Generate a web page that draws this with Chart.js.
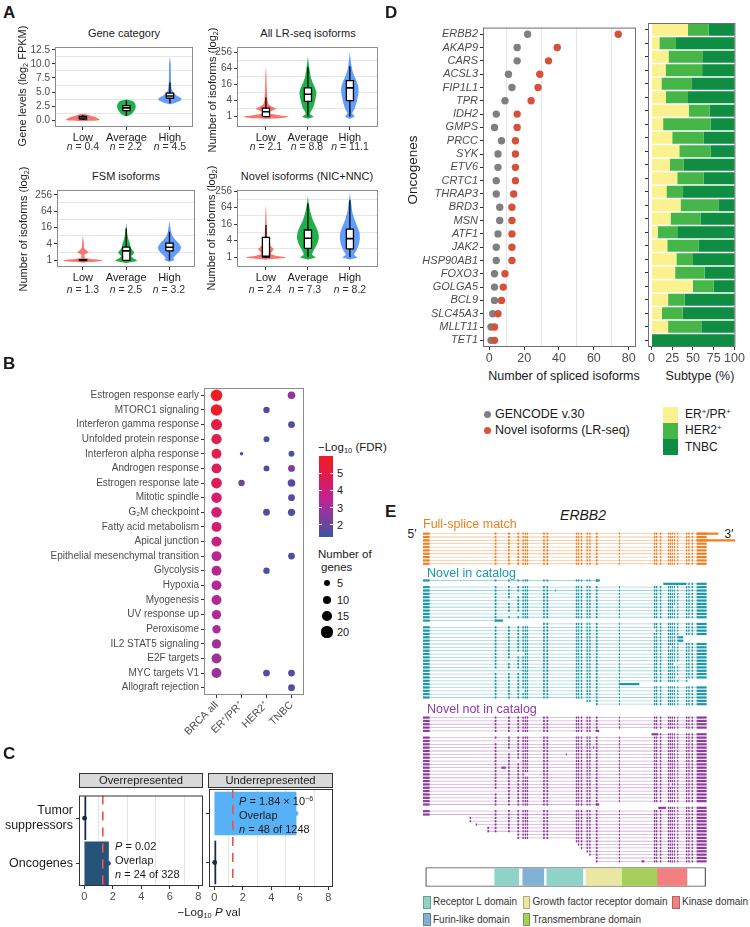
<!DOCTYPE html>
<html>
<head>
<meta charset="utf-8">
<script src="https://cdn.jsdelivr.net/npm/chart.js@4.4.1/dist/chart.umd.min.js"></script>
<style>
  body { margin: 0; width: 750px; height: 927px; position: relative; overflow: hidden; background: #fff;
         font-family: "Liberation Sans", Arial, sans-serif; color: #1a1a1a; }
  canvas { position: absolute; }
  .t { position: absolute; white-space: nowrap; line-height: 1; }
  .t sub { font-size: 0.65em; vertical-align: -0.3em; line-height: 0; }
  .t sup { font-size: 0.65em; vertical-align: 0.55em; line-height: 0; }
  .bx { position: absolute; box-sizing: border-box; }
</style>
</head>
<body>
<script>
// ---------- A: violins ----------
const groups = ['Low', 'Average', 'High'];
const geneN = ['0.4', '2.2', '4.5'];
const allN = ['2.1', '8.8', '11.1'];
const fsmN = ['1.3', '2.5', '3.2'];
const novelN = ['2.4', '7.3', '8.2'];
const geneTicks = [0, 2.5, 5, 7.5, 10, 12.5];
const geneTickLabels = ['0.0', '2.5', '5.0', '7.5', '10.0', '12.5'];
const isoTicks = [1, 4, 16, 64, 256];

// violin outlines, bottom to top: [value, relative width]; isoform panels are in log2
const geneViolins = [
  [[-0.15, 0], [-0.05, 0.75], [0.15, 0.87], [0.4, 0.72], [0.7, 0.5], [0.95, 0.28], [1.15, 0]],
  [[0.7, 0], [0.9, 0.18], [1.3, 0.32], [1.8, 0.42], [2.3, 0.48], [2.8, 0.46], [3.2, 0.4], [3.5, 0.26], [3.7, 0]],
  [[2.8, 0], [3.1, 0.3], [3.5, 0.55], [3.8, 0.6], [4.1, 0.5], [4.5, 0.3], [5, 0.15], [5.5, 0.09], [6.5, 0.06], [8, 0.05], [10, 0.04], [11.3, 0]]
];
const allViolins = [
  [[-0.3, 0], [-0.15, 1.0], [0, 1.2], [0.15, 0.7], [0.35, 0.25], [0.6, 0.2], [0.85, 0.45], [1, 0.55], [1.2, 0.35], [1.5, 0.15], [2, 0.08], [2.6, 0.07], [3, 0.05], [4, 0.04], [5, 0.03], [6.3, 0]],
  [[-0.3, 0], [-0.1, 0.25], [0, 0.3], [0.3, 0.12], [0.6, 0.15], [1, 0.26], [1.6, 0.34], [2.3, 0.41], [3, 0.45], [3.6, 0.38], [4.2, 0.26], [5, 0.15], [6, 0.08], [7.5, 0]],
  [[-0.3, 0], [-0.1, 0.2], [0, 0.25], [0.4, 0.12], [1, 0.26], [2, 0.38], [3, 0.46], [3.8, 0.45], [4.5, 0.34], [5.2, 0.21], [6, 0.11], [7, 0.05], [8.1, 0]]
];
const fsmViolins = [
  [[-0.25, 0], [-0.1, 0.9], [0, 1.03], [0.12, 0.6], [0.3, 0.1], [0.7, 0.08], [0.9, 0.25], [1, 0.3], [1.15, 0.2], [1.5, 0.06], [2.2, 0.04], [3, 0]],
  [[-0.35, 0], [-0.15, 0.45], [0, 0.57], [0.2, 0.4], [0.5, 0.25], [0.85, 0.38], [1, 0.42], [1.3, 0.3], [1.6, 0.22], [2, 0.2], [2.5, 0.12], [3.2, 0.06], [4.6, 0]],
  [[-0.2, 0], [0, 0.25], [0.3, 0.2], [0.8, 0.4], [1.2, 0.55], [1.6, 0.6], [2, 0.5], [2.5, 0.3], [3, 0.15], [3.5, 0.08], [4.8, 0]]
];
const novelViolins = [
  [[-0.3, 0], [-0.1, 1.0], [0, 1.05], [0.15, 0.6], [0.4, 0.25], [0.8, 0.35], [1, 0.42], [1.25, 0.3], [1.6, 0.12], [2.2, 0.08], [3, 0.06], [4, 0.04], [5, 0.03], [6.3, 0]],
  [[-0.3, 0], [-0.1, 0.35], [0, 0.4], [0.3, 0.22], [0.8, 0.3], [1.5, 0.47], [2.3, 0.58], [3, 0.55], [3.7, 0.43], [4.5, 0.26], [5.5, 0.13], [6.5, 0.05], [7.4, 0]],
  [[-0.3, 0], [-0.1, 0.33], [0, 0.38], [0.3, 0.22], [0.8, 0.34], [1.5, 0.47], [2.3, 0.53], [3, 0.51], [3.8, 0.38], [4.6, 0.24], [5.5, 0.13], [6.5, 0.07], [7.8, 0]]
];
// boxplots: [lower whisker, q1, median, q3, upper whisker]
const geneBoxes = [[0.05, 0.2, 0.4, 0.7, 0.95], [0.8, 1.7, 2.2, 2.6, 3.5], [3.0, 3.9, 4.3, 4.8, 6.7]];
const allBoxes = [[0, 0, 0.6, 1.05, 2.4], [0, 1.9, 2.8, 3.6, 6.2], [0, 2.0, 3.6, 4.5, 6.3]];
const fsmBoxes = [[0, 0, 0, 0.1, 0.1], [0, 0, 1.16, 1.62, 3.9], [0, 1.16, 1.6, 2.1, 3.5]];
const novelBoxes = [[0, 0, 0.1, 2.4, 3.9], [0, 1.08, 2.3, 3.3, 6.5], [0, 1.0, 2.25, 3.4, 6.9]];

// ---------- B: hallmark enrichment ----------
const pathways = ['Estrogen response early', 'MTORC1 signaling', 'Interferon gamma response', 'Unfolded protein response',
  'Interferon alpha response', 'Androgen response', 'Estrogen response late', 'Mitotic spindle', 'G\u2082M checkpoint',
  'Fatty acid metabolism', 'Apical junction', 'Epithelial mesenchymal transition', 'Glycolysis', 'Hypoxia', 'Myogenesis',
  'UV response up', 'Peroxisome', 'IL2 STAT5 signaling', 'E2F targets', 'MYC targets V1', 'Allograft rejection'];
const subtypes = ['BRCA all', 'ER\u207A/PR\u207A', 'HER2\u207A', 'TNBC'];
const brcaFdr = [5.8, 5.7, 5.0, 4.8, 4.8, 4.7, 4.7, 4.3, 4.2, 4.2, 3.9, 3.4, 3.4, 3.3, 3.3, 3.3, 3.1, 3.0, 2.9, 2.9, null];
const brcaGenes = [22, 22, 20, 17, 16, 16, 19, 18, 18, 16, 17, 16, 16, 16, 16, 14, 11, 14, 16, 16, null];
const erFdr = [null, null, null, null, 1.6, null, 2.2, null, null, null, null, null, null, null, null, null, null, null, null, null, null];
const erGenes = [null, null, null, null, 1, null, 6, null, null, null, null, null, null, null, null, null, null, null, null, null, null];
const her2Fdr = [null, 1.5, null, 1.5, null, 1.5, null, null, 1.9, null, null, null, 1.5, null, null, null, null, null, null, 1.7, null];
const her2Genes = [null, 6, null, 5, null, 5, null, null, 7, null, null, null, 6, null, null, null, null, null, null, 7, null];
const tnbcFdr = [2.7, null, 1.6, null, 1.5, 2.4, 1.8, 1.6, 1.6, null, null, 1.6, null, null, null, null, null, null, null, 1.6, 1.6];
const tnbcGenes = [9, null, 7, null, 5, 7, 9, 7, 8, null, null, 7, null, null, null, null, null, null, null, 7, 7];
const sizeBreaks = [5, 10, 15, 20];
const fdrBreaks = [2, 3, 4, 5];

// ---------- C: enrichment of cancer genes ----------
const cLabels = [['Tumor', 'suppressors'], 'Oncogenes'];
const overLogP = [0.02, 1.7];
const underLogP = [5.74, 0.03];
const pCutoff = 1.3;
const cTicks = [0, 2, 4, 6, 8];

// ---------- D: oncogenes ----------
const oncogenes = ['ERBB2', 'AKAP9', 'CARS', 'ACSL3', 'FIP1L1', 'TPR', 'IDH2', 'GMPS', 'PRCC', 'SYK', 'ETV6', 'CRTC1',
  'THRAP3', 'BRD3', 'MSN', 'ATF1', 'JAK2', 'HSP90AB1', 'FOXO3', 'GOLGA5', 'BCL9', 'SLC45A3', 'MLLT11', 'TET1'];
const gencodeIso = [22, 16, 16, 11, 13, 9, 4, 3, 7, 5, 5, 4, 4, 6, 6, 5, 4, 4, 3, 3, 3, 2, 1, 1];
const novelIso = [74, 39, 34, 29, 28, 24, 16, 16, 15, 15, 15, 15, 14, 13, 13, 13, 13, 13, 9, 8, 7, 5, 3, 3];
const erPct = [44, 9.5, 20.5, 17, 12, 17.5, 45, 14, 25, 33.5, 22, 31, 18, 35, 23, 7.5, 19, 30, 28.5, 50, 20, 12.5, 20, 0];
const her2Pct = [25, 20, 41.5, 44, 36, 26.5, 25, 57, 38, 37.5, 17, 32, 20, 45.5, 36, 23.5, 38, 20, 35.5, 25, 20, 25, 40, 0];
const tnbcPct = [31, 70.5, 38, 39, 52, 56, 30, 29, 37, 29, 61, 37, 62, 19.5, 41, 69, 43, 50, 36, 25, 60, 62.5, 40, 100];
const isoTicks80 = [0, 20, 40, 60, 80];
const pctTicks = [0, 25, 50, 75, 100];

// ---------- E: ERBB2 isoforms ----------
const exonStarts = [0, 215, 255, 283, 298, 305, 311, 360, 370, 458, 464, 473, 490, 498, 518, 587, 692, 698, 710, 734, 740, 746, 752, 762, 788, 795, 805, 820];
const exonEnds   = [20, 220, 260, 288, 302, 309, 315, 365, 375, 462, 468, 477, 494, 502, 523, 590, 696, 702, 714, 738, 744, 749, 755, 765, 792, 799, 809, 850];
// isoform rows: [first exon, last exon, skipped exons, novel segments]
const fsmRows = [
  [0, 27, [], [[820, 885]]], [0, 27, [], []], [0, 27, [], [[820, 935]]], [0, 27, [], []], [0, 27, [], []],
  [0, 27, [], []], [0, 27, [], []], [0, 27, [], []], [0, 27, [], []], [0, 27, [], []]
];
const nicRows = [
  [0, 14, [], [[518, 530]]], [25, 27, [], [[720, 790]]], [0, 27, [], []], [0, 27, [], [[395, 398]]], [0, 27, [3], []],
  [0, 27, [], []], [0, 27, [2], []], [0, 27, [], []], [0, 27, [22], []], [0, 27, [], []],
  [0, 27, [2, 3], []], [0, 27, [], []], [0, 1, [], [[215, 240]]], [7, 27, [], []], [0, 27, [], []],
  [0, 27, [16], []], [0, 27, [], []], [0, 22, [], [[762, 780]]], [0, 22, [], [[762, 780]]], [0, 27, [], []],
  [0, 27, [20], []], [0, 27, [], []], [0, 27, [3, 4], []], [0, 27, [], []], [0, 27, [2], []],
  [0, 27, [22, 23], []], [0, 27, [], []], [0, 27, [1, 2, 3], []], [0, 27, [], []], [0, 27, [23], []],
  [0, 24, [], []], [0, 15, [], [[587, 648]]], [0, 27, [], []], [0, 27, [4], []], [0, 27, [], []],
  [0, 27, [], []], [12, 27, [], []], [14, 27, [], []]
];
const nncRows = [
  [0, 27, [], []], [0, 27, [], []], [0, 27, [], []], [0, 27, [], []], [0, 14, [], [[518, 528]]],
  [18, 27, [], [[685, 705]]], [0, 27, [], []], [0, 27, [1], []], [0, 27, [], []], [0, 27, [], [[510, 513]]],
  [0, 27, [2], []], [0, 27, [], [[428, 431]]], [0, 27, [], []], [0, 27, [3], []], [0, 27, [], []],
  [0, 27, [], [[235, 248]]], [0, 27, [], []], [0, 27, [5, 6], []], [0, 27, [], []], [0, 27, [], []],
  [0, 27, [20], []], [0, 27, [], []], [0, 27, [1], []], [0, 27, [], []], [0, 27, [], []],
  [0, 27, [], []], [0, 14, [], [[518, 528]]], [19, 27, [], [[705, 728]]], [0, 27, [], []], [0, 27, [], []],
  [1, 27, [], [[140, 144]]], [1, 27, [], [[140, 144]]], [1, 27, [], [[158, 162]]], [1, 27, [], [[193, 198]]], [1, 27, [], [[193, 198]]],
  [3, 27, [], []], [3, 27, [], []], [9, 27, [], []], [10, 27, [], []], [11, 27, [], []],
  [12, 27, [], []], [13, 27, [], []], [14, 27, [], []], [14, 27, [], [[655, 663]]]
];
const domainNames = ['Receptor L domain', 'Furin-like domain', 'Receptor L domain', 'Growth factor receptor domain', 'Transmembrane domain', 'Kinase domain'];
const domainStarts = [215, 299, 371, 488, 596, 701];
const domainEnds = [287, 362, 479, 593, 701, 791];
const proteinSpan = [8, 847];

// ---------- styling ----------
const violinColors = ['#f8766d', '#1fb04a', '#619cff'];
const fdrStops = [[1.3, '#3b54a4'], [2.5, '#853a9e'], [3.5, '#bd2593'], [4.2, '#d51b72'], [5, '#e41c46'], [5.8, '#ee1c25'], [6, '#ee1c25']];
const subtypeColors = ['#fbf18e', '#47b649', '#0f8d42'];
const groupExon = ['#f47d20', '#1998a8', '#8e3a9e'];
const groupIntron = ['rgba(244,125,32,0.45)', 'rgba(25,152,168,0.4)', 'rgba(142,58,158,0.4)'];
const domainColors = {'Receptor L domain': '#8dd3c7', 'Furin-like domain': '#80b1d3', 'Growth factor receptor domain': '#e9e7a2',
  'Transmembrane domain': '#a6d05a', 'Kinase domain': '#f28080'};

Chart.defaults.font.family = '"Liberation Sans", Arial, sans-serif';
Chart.defaults.font.size = 10;
Chart.defaults.color = '#4d4d4d';
Chart.defaults.animation = false;
Chart.defaults.responsive = false;
Chart.defaults.events = [];
Chart.defaults.plugins.legend.display = false;
Chart.defaults.plugins.tooltip.enabled = false;

// panel border like ggplot
Chart.register({
  id: 'frame',
  defaults: {color: null},
  afterDatasetsDraw(chart, args, opts) {
    if (!opts.color) return;
    const a = chart.chartArea, ctx = chart.ctx;
    ctx.save();
    ctx.strokeStyle = opts.color;
    ctx.lineWidth = 1;
    ctx.strokeRect(a.left + 0.5, a.top + 0.5, a.right - a.left - 1, a.bottom - a.top - 1);
    ctx.restore();
  }
});

function makeCanvas(box, pad) {
  const c = document.createElement('canvas');
  const w = box[2] - box[0] + pad[1] + pad[3];
  const h = box[3] - box[1] + pad[0] + pad[2];
  c.width = w; c.height = h;
  c.style.left = (box[0] - pad[3]) + 'px';
  c.style.top = (box[1] - pad[0]) + 'px';
  c.style.width = w + 'px'; c.style.height = h + 'px';
  document.body.appendChild(c);
  return c;
}
function fit(size) { return s => { if (s.isHorizontal()) s.height = size; else s.width = size; }; }

// major ticks with labels; only the minor lines in between are drawn as grid
function gridTicks(major, labels) {
  const minor = major.slice(1).map((v, i) => (v + major[i]) / 2);
  const all = major.concat(minor).sort((a, b) => a - b);
  return {
    afterBuildTicks: s => { s.ticks = all.map(v => ({value: v})); },
    ticks: {autoSkip: false, maxRotation: 0, callback: v => { const i = major.indexOf(v); return i < 0 ? '' : labels[i]; }},
    grid: {
      color: c => c.tick && major.indexOf(c.tick.value) < 0 ? '#e6e6e6' : 'rgba(0,0,0,0)',
      tickColor: c => c.tick && major.indexOf(c.tick.value) >= 0 ? '#333' : 'rgba(0,0,0,0)',
      tickLength: 3
    },
    border: {display: false}
  };
}

function txt(html, x, y, size, anchor, extra) {
  const d = document.createElement('div');
  d.className = 't';
  d.innerHTML = html;
  d.style.left = x + 'px';
  d.style.top = y + 'px';
  d.style.fontSize = size + 'px';
  const tx = anchor === 'l' ? '0' : anchor === 'r' ? '-100%' : '-50%';
  d.style.transform = 'translate(' + tx + ',-50%)' + (extra && extra.rot ? ' rotate(-90deg)' : '');
  if (extra) Object.keys(extra).forEach(k => { if (k !== 'rot') d.style[k] = extra[k]; });
  document.body.appendChild(d);
  return d;
}
function rect(x, y, w, h, css) {
  const d = document.createElement('div');
  d.className = 'bx';
  d.style.left = x + 'px'; d.style.top = y + 'px'; d.style.width = w + 'px'; d.style.height = h + 'px';
  Object.assign(d.style, css);
  document.body.appendChild(d);
  return d;
}

// ---------- A ----------
function violinPanel(box, violins, boxes, xr, yr, major, labels) {
  const ds = [];
  violins.forEach((v, i) => {
    const c = i + 1;
    const pts = v.map(([y, d]) => ({x: c + d * 0.45, y}))
      .concat(v.slice().reverse().map(([y, d]) => ({x: c - d * 0.45, y})));
    ds.push({data: pts, fill: 'shape', backgroundColor: violinColors[i], borderWidth: 0,
      pointRadius: 0, tension: 0.1, order: 4});
  });
  ds.push({order: 3, borderColor: '#000', borderWidth: 1.3, pointRadius: 0, spanGaps: false,
    data: boxes.flatMap((b, i) => [{x: i + 1, y: b[0]}, {x: i + 1, y: b[4]}, {x: i + 1, y: null}])});
  const hw = 0.085;
  boxes.forEach((b, i) => {
    const c = i + 1;
    ds.push({order: 2, fill: 'shape', backgroundColor: '#fff', borderColor: '#000', borderWidth: 1.3,
      pointRadius: 0, borderJoinStyle: 'miter',
      data: [{x: c - hw, y: b[1]}, {x: c + hw, y: b[1]}, {x: c + hw, y: b[3]}, {x: c - hw, y: b[3]}, {x: c - hw, y: b[1]}]});
  });
  ds.push({order: 1, borderColor: '#000', borderWidth: 1.6, pointRadius: 0, spanGaps: false,
    data: boxes.flatMap((b, i) => [{x: i + 1 - hw, y: b[2]}, {x: i + 1 + hw, y: b[2]}, {x: i + 1, y: null}])});
  const yAxis = gridTicks(major, labels);
  new Chart(makeCanvas(box, [4, 4, 18, 34]), {
    type: 'line',
    data: {datasets: ds},
    options: {
      layout: {padding: {top: 4, right: 4}},
      plugins: {frame: {color: '#8c8c8c'}},
      scales: {
        x: {type: 'linear', min: xr[0], max: xr[1], afterFit: fit(18),
          afterBuildTicks: s => { s.ticks = groups.map((g, i) => ({value: i + 1})); },
          ticks: {autoSkip: false, maxRotation: 0, callback: (v, i) => groups[i], color: '#1a1a1a', font: {size: 11}, padding: 1},
          grid: {drawOnChartArea: false, tickLength: 3, tickColor: '#333'}, border: {display: false}},
        y: Object.assign({type: 'linear', min: yr[0], max: yr[1], afterFit: fit(34)}, yAxis,
          {ticks: Object.assign(yAxis.ticks, {padding: 2, font: {size: 10}})})
      }
    }
  });
}
const isoPos = isoTicks.map(v => Math.log2(v));
const isoLab = isoTicks.map(String);
violinPanel([55, 43, 193, 127], geneViolins, geneBoxes, [0.36, 3.53], [-1.2, 13.0], geneTicks, geneTickLabels);
violinPanel([237, 43, 378, 127], allViolins, allBoxes, [0.31, 3.67], [-1.31, 8.72], isoPos, isoLab);
violinPanel([57, 186, 195, 267], fsmViolins, fsmBoxes, [0.40, 3.59], [-0.81, 8.58], isoPos, isoLab);
violinPanel([237, 186, 378, 267], novelViolins, novelBoxes, [0.31, 3.67], [-1.19, 8.15], isoPos, isoLab);

txt('<b>A</b>', 3, 12, 17, 'l');
txt('Gene category', 124, 33, 11, 'c');
txt('All LR-seq isoforms', 308, 33, 11, 'c');
txt('FSM isoforms', 126, 176, 11, 'c');
txt('Novel isoforms (NIC+NNC)', 307, 176, 11, 'c');
txt('Gene levels (log<sub>2</sub> FPKM)', 22, 86, 11, 'c', {rot: 1});
txt('Number of isoforms (log<sub>2</sub>)', 212, 90, 11, 'c', {rot: 1});
txt('Number of isoforms (log<sub>2</sub>)', 23, 229, 11, 'c', {rot: 1});
txt('Number of isoforms (log<sub>2</sub>)', 211, 228, 11, 'c', {rot: 1});
[[geneN, [83, 126, 170], 146], [allN, [266, 307, 350], 146], [fsmN, [83, 126, 169], 289], [novelN, [265, 305, 350], 289]]
  .forEach(([ns, xs, y]) => ns.forEach((n, i) => txt('<i>n</i> = ' + n, xs[i], y, 10.5, 'c', {color: '#333'})));

// ---------- B ----------
function hex2rgb(h) { return [1, 3, 5].map(i => parseInt(h.substr(i, 2), 16)); }
function mix(a, b, t) { const A = hex2rgb(a), B = hex2rgb(b); return 'rgb(' + A.map((v, i) => Math.round(v + (B[i] - v) * t)).join(',') + ')'; }
function fdrColor(v) {
  for (let i = 1; i < fdrStops.length; i++) {
    if (v <= fdrStops[i][0]) {
      const [a, ca] = fdrStops[i - 1], [b, cb] = fdrStops[i];
      return mix(ca, cb, Math.max(0, (v - a) / (b - a)));
    }
  }
  return fdrStops[fdrStops.length - 1][1];
}
function dotRadius(g) { return Math.sqrt(1.45 * g + 1.5); }
const fdrCols = [brcaFdr, erFdr, her2Fdr, tnbcFdr];
const geneCols = [brcaGenes, erGenes, her2Genes, tnbcGenes];
const bubbles = [];
subtypes.forEach((s, j) => fdrCols[j].forEach((v, i) => {
  if (v != null) bubbles.push({x: s, y: pathways[i], r: dotRadius(geneCols[j][i]), v});
}));
new Chart(makeCanvas([204, 384, 304, 695], [4, 6, 52, 200]), {
  type: 'bubble',
  data: {datasets: [{data: bubbles, backgroundColor: bubbles.map(b => fdrColor(b.v)), borderWidth: 0}]},
  options: {
    layout: {padding: {top: 4, right: 6}},
    plugins: {frame: {color: '#8c8c8c'}},
    scales: {
      x: {type: 'category', labels: subtypes, offset: true, afterFit: fit(52),
        ticks: {minRotation: 45, maxRotation: 45, autoSkip: false, font: {size: 10.5}, padding: 1},
        grid: {drawOnChartArea: false, tickLength: 3, tickColor: '#333', offset: false}, border: {display: false}},
      y: {type: 'category', labels: pathways, offset: true, afterFit: fit(200),
        ticks: {autoSkip: false, font: {size: 10}, padding: 2},
        grid: {drawOnChartArea: false, tickLength: 3, tickColor: '#333', offset: false}, border: {display: false}}
    }
  }
});
txt('<b>B</b>', 3, 363, 17, 'l');
txt('\u2212Log<sub>10</sub> (FDR)', 318, 448, 11.5, 'l');
const cbTop = 456, cbBot = 537, cbLo = 1.3, cbHi = 6.0;
rect(319, cbTop, 14, cbBot - cbTop, {background: 'linear-gradient(to top,' +
  fdrStops.map(([v, c]) => c + ' ' + ((v - cbLo) / (cbHi - cbLo) * 100).toFixed(1) + '%').join(',') + ')'});
fdrBreaks.forEach(v => {
  const y = cbBot - (v - cbLo) / (cbHi - cbLo) * (cbBot - cbTop);
  rect(319, y - 0.5, 3, 1, {background: '#fff'});
  rect(330, y - 0.5, 3, 1, {background: '#fff'});
  txt(String(v), 337, y, 11, 'l');
});
txt('Number of', 318, 555, 11.5, 'l');
txt('genes', 321, 568, 11.5, 'l');
sizeBreaks.forEach((g, i) => {
  const r = dotRadius(g), y = [583, 600, 616, 632][i];
  rect(327 - r, y - r, 2 * r, 2 * r, {background: '#000', borderRadius: '50%'});
  txt(String(g), 337, y, 11, 'l');
});

// ---------- C ----------
function pFill(v) { return mix('#132b43', '#56b1f7', Math.min(1, v / 5.74)); }
function facet(box, vals, showY) {
  const cols = vals.map(pFill);
  const padL = showY ? 79 : 3;
  const xAxis = gridTicks(cTicks, cTicks.map(String));
  new Chart(makeCanvas(box, [2, 4, 17, padL]), {
    type: 'bar',
    data: {datasets: [
      {type: 'line', order: 0, data: [{x: pCutoff, y: -0.5}, {x: pCutoff, y: 1.5}], borderColor: '#f0514a',
        borderWidth: 1.6, borderDash: [9, 7], pointRadius: 0},
      {type: 'line', order: 1, data: vals.map((v, i) => ({x: v, y: i})), showLine: false, pointRadius: 2.4,
        backgroundColor: cols, borderWidth: 0},
      {order: 2, data: vals.map((v, i) => ({x: v, y: i})), backgroundColor: cols, borderColor: cols, borderWidth: 0,
        barThickness: 43, minBarLength: 1.6}
    ]},
    options: {
      indexAxis: 'y',
      layout: {padding: {top: 2, right: 4}},
      plugins: {frame: {color: '#333'}},
      scales: {
        x: Object.assign({type: 'linear', min: -0.37, max: 8.33, afterFit: fit(17)}, xAxis,
          {ticks: Object.assign(xAxis.ticks, {padding: 1, font: {size: 11}})}),
        y: {type: 'linear', min: -0.5, max: 1.5, reverse: true, offset: false, afterFit: fit(padL),
          afterBuildTicks: s => { s.ticks = cLabels.map((l, i) => ({value: i})); },
          ticks: {display: showY, autoSkip: false, callback: (v, i) => cLabels[i], color: '#1a1a1a', font: {size: 12.5}, padding: 3},
          grid: {drawOnChartArea: false, tickLength: 3, tickColor: '#333', offset: false}, border: {display: false}}
      }
    }
  });
}
facet([79, 787, 203, 887], overLogP, true);
facet([208, 787, 333, 887], underLogP, false);
txt('<b>C</b>', 3, 753, 17, 'l');
rect(79, 773, 124, 15, {background: '#d9d9d9', border: '1px solid #333'});
rect(208, 773, 125, 15, {background: '#d9d9d9', border: '1px solid #333'});
txt('Overrepresented', 141, 780.5, 11.2, 'c');
txt('Underrepresented', 270.5, 780.5, 11.2, 'c');
txt('<i>P</i> = 0.02', 115, 846, 11, 'l');
txt('Overlap', 115, 860, 11, 'l');
txt('<i>n</i> = 24 of 328', 115, 874, 11, 'l');
txt('<i>P</i> = 1.84 \u00d7 10<sup>\u22126</sup>', 239, 801, 11, 'l');
txt('Overlap', 239, 815, 11, 'l');
txt('<i>n</i> = 48 of 1248', 239, 829, 11, 'l');
txt('\u2212Log<sub>10</sub> <i>P</i> val', 209, 913, 11.5, 'c');

// ---------- D ----------
const dX = gridTicks(isoTicks80, isoTicks80.map(String));
new Chart(makeCanvas([483, 23, 636, 347], [4, 4, 20, 96]), {
  type: 'scatter',
  data: {datasets: [
    {order: 0, data: oncogenes.map((g, i) => ({x: novelIso[i], y: g})), backgroundColor: '#d6503a', pointRadius: 3.7, borderWidth: 0},
    {order: 1, data: oncogenes.map((g, i) => ({x: gencodeIso[i], y: g})), backgroundColor: '#7f7f7f', pointRadius: 3.7, borderWidth: 0}
  ]},
  options: {
    layout: {padding: {top: 4, right: 4}},
    plugins: {frame: {color: '#6e6e6e'}},
    scales: {
      x: Object.assign({type: 'linear', min: -3.6, max: 84.2, afterFit: fit(20)}, dX,
        {ticks: Object.assign(dX.ticks, {padding: 1, font: {size: 12.5}})}),
      y: {type: 'category', labels: oncogenes, offset: true, afterFit: fit(96),
        ticks: {autoSkip: false, font: {size: 11, style: 'italic'}, padding: 2},
        grid: {drawOnChartArea: false, tickLength: 3, tickColor: '#333', offset: false}, border: {display: false}}
    }
  }
});
new Chart(makeCanvas([648, 23, 740, 347], [4, 6, 20, 6]), {
  type: 'bar',
  data: {labels: oncogenes, datasets: [erPct, her2Pct, tnbcPct].map((d, k) => ({
    data: d, backgroundColor: subtypeColors[k], borderWidth: 0, barPercentage: 0.88, categoryPercentage: 1}))},
  options: {
    indexAxis: 'y',
    layout: {padding: {top: 4, right: 6}},
    plugins: {frame: {color: '#6e6e6e'}},
    scales: {
      x: {type: 'linear', stacked: true, min: -4.2, max: 101.1, afterFit: fit(20),
        afterBuildTicks: s => { s.ticks = pctTicks.map(v => ({value: v})); },
        ticks: {autoSkip: false, maxRotation: 0, padding: 1, font: {size: 12.5}},
        grid: {drawOnChartArea: false, tickLength: 3, tickColor: '#333'}, border: {display: false}},
      y: {stacked: true, afterFit: fit(6), ticks: {display: false},
        grid: {drawOnChartArea: false, tickLength: 3, tickColor: '#333', offset: false}, border: {display: false}}
    }
  }
});
txt('<b>D</b>', 385, 12, 17, 'l');
txt('Oncogenes', 413, 170, 13.5, 'c', {rot: 1});
txt('Number of spliced isoforms', 564, 376, 12.5, 'c');
txt('Subtype (%)', 700, 376, 12.5, 'c');
rect(483.5, 410.5, 7.5, 7.5, {background: '#7f7f7f', borderRadius: '50%'});
rect(483.5, 426.5, 7.5, 7.5, {background: '#d6503a', borderRadius: '50%'});
txt('GENCODE v.30', 495, 414, 12.5, 'l');
txt('Novel isoforms (LR-seq)', 495, 430, 12.5, 'l');
subtypeColors.forEach((c, k) => rect(663, 407 + k * 16, 15, 16, {background: c}));
txt('ER<sup>+</sup>/PR<sup>+</sup>', 685, 414, 12, 'l');
txt('HER2<sup>+</sup>', 685, 430, 12, 'l');
txt('TNBC', 685, 447, 12, 'l');

// ---------- E ----------
const eGap = [4, 3];
const eRows = [];
[fsmRows, nicRows, nncRows].forEach((rows, g) => {
  if (g > 0) for (let k = 0; k < eGap[g - 1]; k++) eRows.push(null);
  rows.forEach(r => eRows.push({g, first: r[0], last: r[1], skip: r[2], extra: r[3]}));
});
const eExonCols = eRows.map(r => r ? groupExon[r.g] : 'rgba(0,0,0,0)');
const eSets = [{
  order: 2, barThickness: 0.8,
  data: eRows.map(r => r ? [Math.min(exonStarts[r.first], ...r.extra.map(e => e[0])), Math.max(exonEnds[r.last], ...r.extra.map(e => e[1]))] : null),
  backgroundColor: eRows.map(r => r ? groupIntron[r.g] : 'rgba(0,0,0,0)')
}];
exonStarts.forEach((s, k) => eSets.push({
  order: 1, barThickness: 2.2, backgroundColor: eExonCols,
  data: eRows.map(r => r && k >= r.first && k <= r.last && !r.skip.includes(k) ? [s, exonEnds[k]] : null)
}));
eSets.push({order: 0, barThickness: 2.2, backgroundColor: eExonCols,
  data: eRows.map(r => r && r.extra.length ? r.extra[0] : null)});
new Chart(makeCanvas([423, 532, 735, 863], [0, 0, 0, 0]), {
  type: 'bar',
  data: {labels: eRows.map((r, i) => 'row' + i), datasets: eSets},
  options: {
    indexAxis: 'y',
    datasets: {bar: {grouped: false, borderWidth: 0, inflateAmount: 0}},
    scales: {x: {type: 'linear', min: 0, max: 935, display: false}, y: {display: false}}
  }
});
new Chart(makeCanvas([423, 867, 735, 887], [0, 0, 0, 0]), {
  type: 'bar',
  data: {labels: ['ERBB2'], datasets: [
    {order: 1, data: [proteinSpan], backgroundColor: '#fff', borderColor: '#555', borderWidth: 1.2, borderSkipped: false, barThickness: 19}
  ].concat(domainNames.map((n, i) => ({order: 0, data: [[domainStarts[i], domainEnds[i]]], backgroundColor: domainColors[n], barThickness: 17})))},
  options: {
    indexAxis: 'y',
    datasets: {bar: {grouped: false}},
    scales: {x: {type: 'linear', min: 0, max: 935, display: false}, y: {display: false}}
  }
});
txt('<b>E</b>', 385, 511, 17, 'l');
txt('<i>ERBB2</i>', 583, 515, 14, 'c');
txt('5\u2032', 412, 534, 12, 'c');
txt('3\u2032', 729, 534, 12, 'c');
txt('Full-splice match', 423, 524, 12.5, 'l', {color: groupExon[0]});
txt('Novel in catalog', 427, 573, 12.5, 'l', {color: groupExon[1]});
txt('Novel not in catalog', 427, 709, 12.5, 'l', {color: groupExon[2]});
const legendE = [['Receptor L domain', 423, 902], ['Growth factor receptor domain', 522.5, 902], ['Kinase domain', 672, 902],
  ['Furin-like domain', 423, 919.5], ['Transmembrane domain', 522.5, 919.5]];
legendE.forEach(([n, x, y]) => {
  rect(x, y - 6.5, 7.5, 13, {background: domainColors[n], border: '1px solid rgba(0,0,0,0.25)'});
  txt(n, x + 10, y, 10, 'l', {color: '#333'});
});
</script>
</body>
</html>
